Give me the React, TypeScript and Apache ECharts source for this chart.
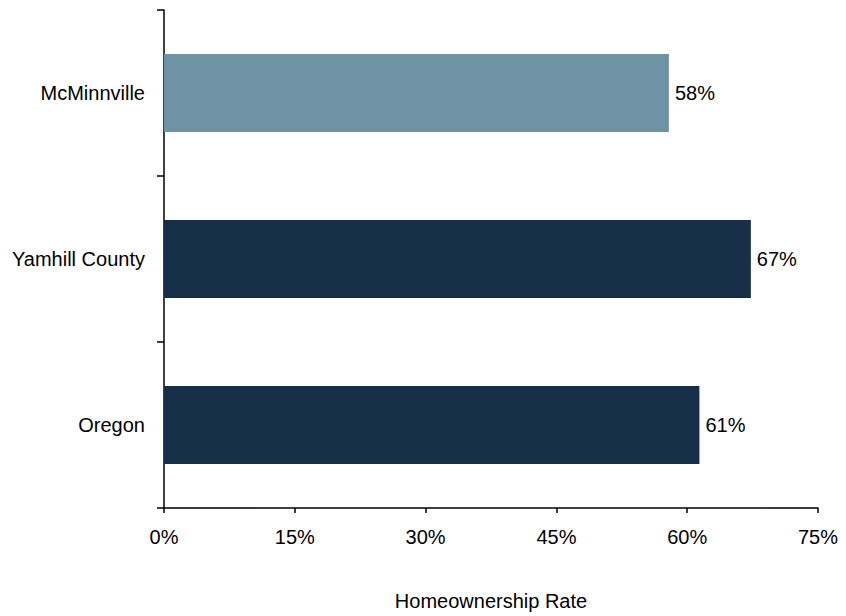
import React, { useEffect, useRef } from "react";
import * as echarts from "echarts";

const categories = ["McMinnville", "Yamhill County", "Oregon"];
const values = [57.9, 67.3, 61.4];
const barColors = ["#6E93A3", "#172E48", "#172E48"];
const xTicks = [0, 15, 30, 45, 60, 75];
const axisTitle = "Homeownership Rate";

export default function App() {
  const ref = useRef<HTMLDivElement>(null);
  useEffect(() => {
    if (!ref.current) return;
    const chart = echarts.init(ref.current, null, { renderer: "svg" });
    const font = "Liberation Sans, Arial, sans-serif";
    chart.setOption({
      animation: false,
      grid: { left: 164, right: 28, top: 10, bottom: 97, containLabel: false },
      xAxis: {
        type: "value",
        min: xTicks[0],
        max: xTicks[xTicks.length - 1],
        interval: 15,
        name: axisTitle,
        nameLocation: "middle",
        nameGap: 83,
        nameTextStyle: { fontFamily: font, fontSize: 20, color: "#000" },
        axisLine: { show: true, lineStyle: { color: "#000", width: 1.5 } },
        axisTick: { show: true, length: 5, lineStyle: { color: "#000", width: 1.5 } },
        axisLabel: {
          formatter: (v: number) => `${v}%`,
          fontFamily: font,
          fontSize: 20,
          color: "#000",
          margin: 19,
        },
        splitLine: { show: false },
      },
      yAxis: {
        type: "category",
        data: categories,
        inverse: true,
        axisLine: { show: true, lineStyle: { color: "#000", width: 1.5 } },
        axisTick: { show: true, length: 7, lineStyle: { color: "#000", width: 1.5 } },
        axisLabel: { fontFamily: font, fontSize: 20, color: "#000", margin: 19 },
      },
      series: [
        {
          type: "bar",
          data: values.map((v, i) => ({ value: v, itemStyle: { color: barColors[i] } })),
          barCategoryGap: "53%",
          label: {
            show: true,
            position: "right",
            distance: 6,
            formatter: (p: any) => `${Math.round(p.value)}%`,
            fontFamily: font,
            fontSize: 20,
            color: "#000",
          },
        },
      ],
    });
    return () => chart.dispose();
  }, []);
  return <div ref={ref} style={{ width: 846, height: 616, position: "absolute", left: 0, top: 0 }} />;
}
